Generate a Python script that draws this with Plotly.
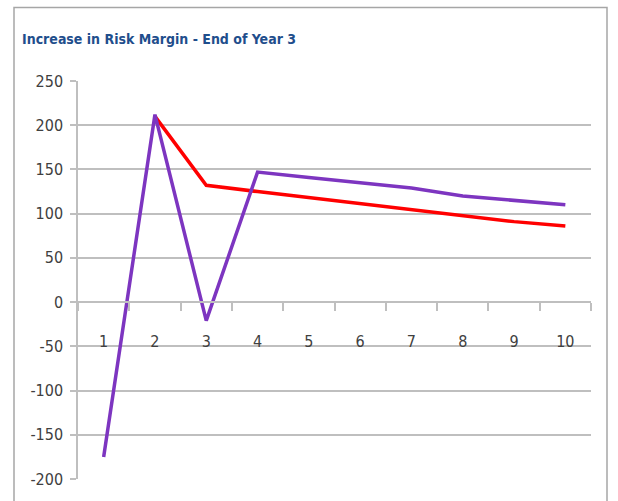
import plotly.graph_objects as go

# Projection years (categories on the x axis)
years = ["1", "2", "3", "4", "5", "6", "7", "8", "9", "10"]

# Increase in risk margin per year, two series
red_years = ["2", "3", "4", "5", "6", "7", "8", "9", "10"]
red_values = [210, 132, 125, 118, 111, 104, 97, 91, 86]

purple_years = years
purple_values = [-175, 212, -21, 147, 141, 135, 129, 120, 115, 110]

# Value axis ticks (plain hyphen for negatives)
y_ticks = [-200, -150, -100, -50, 0, 50, 100, 150, 200, 250]
y_tick_labels = ["-200", "-150", "-100", "-50", "0", "50", "100", "150", "200", "250"]

y_min, y_max = -200, 250

GRID = "#BFBFBF"
TEXT = "#404040"
FONT = "DejaVu Sans Condensed, Roboto, Liberation Sans, sans-serif"

fig = go.Figure()
fig.add_trace(go.Scatter(x=red_years, y=red_values, mode="lines",
                         line=dict(color="#FF0000", width=3.5), showlegend=False))
fig.add_trace(go.Scatter(x=purple_years, y=purple_values, mode="lines",
                         line=dict(color="#7D35C0", width=3.5), showlegend=False))

zero_pos = (0 - y_min) / (y_max - y_min)

fig.update_layout(
    width=618, height=501,
    margin=dict(l=78, r=27, t=81, b=19),
    paper_bgcolor="white", plot_bgcolor="white",
    title=dict(text="<b>Increase in Risk Margin - End of Year 3</b>",
               x=22 / 618, xanchor="left", y=1 - 39 / 501, yanchor="middle",
               font=dict(family=FONT, size=14, color="#1F4E8C")),
    xaxis=dict(type="category", categoryorder="array", categoryarray=years,
               range=[-0.5, 9.5], anchor="free", position=zero_pos,
               showgrid=False, showline=True, linecolor=GRID, linewidth=1.5,
               ticks="outside", ticklen=8, tickcolor=GRID, tickwidth=1.5,
               tickson="boundaries", ticklabelstandoff=25,
               tickfont=dict(family=FONT, size=16, color=TEXT), zeroline=False),
    yaxis=dict(range=[y_min, y_max], tickmode="array",
               tickvals=y_ticks, ticktext=y_tick_labels,
               showgrid=True, gridcolor=GRID, gridwidth=1.5,
               showline=True, linecolor=GRID, linewidth=1.5,
               ticks="outside", ticklen=6, tickcolor=GRID, tickwidth=1.5,
               ticklabelstandoff=4,
               tickfont=dict(family=FONT, size=16, color=TEXT),
               zeroline=False),
    shapes=[
        # chart frame
        dict(type="rect", xref="paper", yref="paper",
             x0=(14 - 78) / 513, x1=(607 - 78) / 513,
             y0=(482 - 520) / 401, y1=(482 - 7) / 401,
             line=dict(color="#A6A6A6", width=1.5), fillcolor="rgba(0,0,0,0)",
             layer="below"),
    ],
)

fig.write_html("out.html")
